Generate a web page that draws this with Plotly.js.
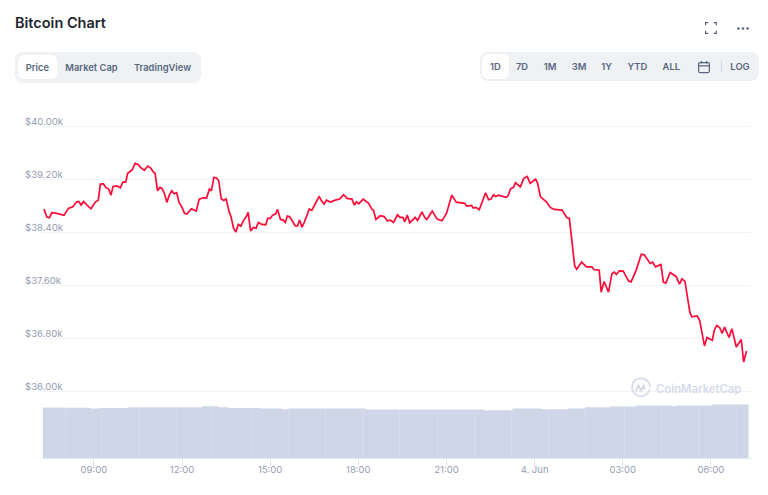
<!DOCTYPE html>
<html>
<head>
<meta charset="utf-8">
<script src="https://cdn.plot.ly/plotly-3.0.1.min.js"></script>
<style>
html,body{margin:0;padding:0;background:#fff;width:768px;height:495px;overflow:hidden;font-family:Inter,sans-serif}
#chart{position:absolute;left:0;top:0;width:768px;height:495px}
.g{position:absolute;background:#eff2f5;border-radius:8px}
.a{position:absolute;background:#fff;border-radius:6px}
.t{position:absolute;transform:translate(-50%,-50%);font-size:9.4px;font-weight:600;color:#58667e;white-space:nowrap;line-height:1}
svg.i{position:absolute;overflow:visible}
</style>
</head>
<body>
<div id="chart"></div>
<div class="g" style="left:15px;top:52px;width:186px;height:31px"></div>
<div class="a" style="left:18px;top:55px;width:39px;height:24px"></div>
<div class="t" style="left:37.3px;top:67.8px">Price</div>
<div class="t" style="left:91.5px;top:67.8px">Market Cap</div>
<div class="t" style="left:162.5px;top:67.8px">TradingView</div>
<div class="g" style="left:480px;top:52px;width:279px;height:29px"></div>
<div class="a" style="left:482px;top:54px;width:27px;height:25px"></div>
<div class="t" style="left:495.3px;top:66.8px">1D</div>
<div class="t" style="left:522px;top:66.8px">7D</div>
<div class="t" style="left:550px;top:66.8px">1M</div>
<div class="t" style="left:579px;top:66.8px">3M</div>
<div class="t" style="left:606.7px;top:66.8px">1Y</div>
<div class="t" style="left:637.3px;top:66.8px">YTD</div>
<div class="t" style="left:671.3px;top:66.8px">ALL</div>
<div class="t" style="left:740px;top:66.8px">LOG</div>
<svg class="i" style="left:698px;top:61px" width="12" height="12" viewBox="0 0 12 12" fill="none" stroke="#58667e" stroke-width="1.2"><rect x="0.6" y="1.6" width="10.8" height="10" rx="1.5"/><path d="M0.6 4.8H11.4M3.4 0V2.6M8.6 0V2.6"/></svg>
<div style="position:absolute;left:720.5px;top:61px;width:1px;height:11px;background:#cfd6e4"></div>
<svg class="i" style="left:705px;top:22px" width="12" height="12" viewBox="0 0 12 12" fill="none" stroke="#58667e" stroke-width="1.2"><path d="M0.6 3.2V0.6H3.2M8.8 0.6H11.4V3.2M11.4 8.8V11.4H8.8M3.2 11.4H0.6V8.8"/></svg>
<svg class="i" style="left:737px;top:26.5px" width="12" height="3" viewBox="0 0 12 3" fill="#58667e"><circle cx="1.4" cy="1.5" r="1.3"/><circle cx="6" cy="1.5" r="1.3"/><circle cx="10.6" cy="1.5" r="1.3"/></svg>
<svg class="i" style="left:631px;top:378px" width="20" height="20" viewBox="0 0 20 20" fill="none" stroke="#d5dbea" stroke-width="1.7"><path d="M18.6 11.6A8.9 8.9 0 1 1 18.9 9"/><path d="M4.6 13.4L7.4 7.6L10 12.6L12.6 7.6L13.6 11.8" stroke-width="2"/></svg>
<script>
// Price series: minutes since 3 June 00:00, and USD price
var priceMinutes = [438,444,449,454,464,471,479,488,497,505,509,514,519,527,534,543,549,553,559,565,570,575,579,587,594,599,605,609,618,624,631,635,643,650,656,662,665,670,675,679,684,689,694,699,704,709,714,720,725,730,739,749,755,764,770,776,780,785,790,795,800,805,810,816,820,825,830,835,840,846,851,855,860,866,871,876,883,891,895,900,905,911,915,921,926,931,935,940,945,951,956,960,965,970,980,985,992,1000,1005,1010,1015,1023,1033,1042,1050,1057,1067,1072,1076,1081,1090,1101,1108,1111,1116,1125,1133,1139,1145,1152,1160,1165,1171,1175,1180,1185,1196,1201,1210,1216,1220,1231,1241,1251,1260,1271,1280,1290,1297,1301,1311,1315,1320,1327,1340,1346,1351,1356,1361,1366,1375,1382,1386,1391,1397,1401,1411,1418,1425,1431,1442,1446,1452,1464,1472,1480,1496,1506,1511,1519,1522,1526,1536,1546,1557,1561,1572,1576,1582,1591,1598,1603,1607,1613,1621,1632,1637,1647,1658,1664,1676,1681,1687,1698,1703,1708,1717,1729,1736,1741,1747,1757,1761,1772,1777,1787,1792,1803,1807,1812,1818,1823,1828,1837,1843,1852,1862,1867,1873];
var priceValues = [38755,38634,38623,38699,38690,38679,38660,38765,38789,38865,38871,38815,38871,38805,38759,38860,38890,39128,39137,39076,39061,38966,39097,39106,39076,39162,39162,39294,39344,39445,39423,39384,39339,39404,39374,39309,39294,39031,39082,39067,38992,38856,38966,39031,38986,39001,38856,38780,38690,38679,38759,38725,38906,38925,38921,39057,39031,39233,39227,39182,38910,38886,38910,38720,38639,38472,38408,38524,38498,38589,38639,38705,38423,38479,38463,38554,38524,38518,38614,38614,38664,38679,38750,38599,38593,38554,38649,38639,38578,38503,38498,38589,38483,38563,38755,38735,38835,38946,38875,38830,38890,38860,38890,38906,38971,38916,38906,38815,38865,38835,38906,38841,38750,38740,38599,38654,38641,38578,38589,38554,38669,38630,38630,38563,38664,38548,38630,38584,38714,38624,38599,38725,38604,38578,38690,38966,38860,38845,38841,38800,38810,38770,38780,38744,39001,38895,38906,38971,38946,38966,38946,38931,38955,39061,39082,39152,39091,39218,39248,39143,39208,39152,38940,38865,38780,38750,38740,38624,38619,38136,37894,37849,37955,37884,37884,37844,37834,37502,37663,37502,37784,37804,37769,37823,37819,37668,37657,37823,38075,38065,37935,37955,37884,37920,37653,37638,37799,37739,37623,37703,37668,37204,37129,37144,37079,36691,36818,36777,36928,37000,36969,36879,36974,36818,36948,36676,36788,36450,36616];
// Volume steps, USD billions
var volumeMinutes = [436,482,485,532,553,610,761,794,814,880,923,937,1094,1337,1395,1454,1507,1544,1593,1648,1722,1730,1803,1877];
var volumeValues = [50.4,49.4,50.2,49.4,50.0,50.7,51.7,50.7,50.0,49.4,48.7,49.4,48.5,47.7,49.4,48.7,49.4,50.7,51.4,52.4,51.7,52.4,53.4,53.4];
var volumeDividers = [482,556,632,708,782,863,938,1013,1089,1164,1242,1318,1393,1469,1544,1624,1700,1775,1852];
// Axis labels
var xTickMinutes = [540,720,900,1080,1260,1440,1620,1800];
var xTickLabels = ['09:00','12:00','15:00','18:00','21:00','4. Jun','03:00','06:00'];
var priceTicks = [36000,36800,37600,38400,39200,40000];
var priceTickLabels = ['$36.00k','$36.80k','$37.60k','$38.40k','$39.20k','$40.00k'];

function toDate(m){ return Date.UTC(2021,5,3,0,m); }
function volumeAt(m){ var v=volumeValues[0]; for(var i=0;i<volumeMinutes.length;i++){ if(volumeMinutes[i]<=m) v=volumeValues[i]; } return v; }

var labelColor = '#959db3';
var FONT = 'Inter, sans-serif';
var traces = [
 {type:'scatter',mode:'lines',x:volumeMinutes.map(toDate),y:volumeValues,yaxis:'y2',
  line:{shape:'hv',width:0,color:'#cfd6e8'},fill:'tozeroy',fillcolor:'#cfd6e8',hoverinfo:'skip',showlegend:false},
 {type:'scatter',mode:'lines',x:priceMinutes.map(toDate),y:priceValues,yaxis:'y',
  line:{color:'#ff0a37',width:1.7,shape:'linear'},showlegend:false}
];
var annotations = priceTicks.map(function(v,i){
  return {xref:'paper',yref:'y',x:-19.5/709,y:v,yshift:5,xanchor:'left',yanchor:'middle',showarrow:false,
    text:priceTickLabels[i],font:{family:FONT,size:9.6,color:labelColor}};
});
annotations.push({xref:'paper',yref:'paper',x:(654-42)/709,y:(457.7-389)/347.7,xanchor:'left',yanchor:'middle',showarrow:false,
  text:'CoinMarketCap',font:{family:FONT,size:11.3,color:'#d5dbea',weight:600}});
var dividerShapes = volumeDividers.map(function(m){
  return {type:'line',xref:'x',yref:'y2',x0:toDate(m),x1:toDate(m),y0:0,y1:volumeAt(m),line:{color:'#d8ddec',width:1}};
});
var layout = {
  width:768,height:495,
  margin:{l:42,r:17,t:110,b:37.3,pad:0},
  paper_bgcolor:'rgba(0,0,0,0)',plot_bgcolor:'rgba(0,0,0,0)',
  title:{text:'Bitcoin Chart',x:15/768,xanchor:'left',xref:'container',y:1-23/495,yanchor:'middle',yref:'container',font:{family:FONT,size:14.5,color:'#222531',weight:600}},
  showlegend:false,
  shapes:dividerShapes,
  xaxis:{type:'date',range:[toDate(434.4),toDate(1882.9)],tickmode:'array',tickvals:xTickMinutes.map(toDate),ticktext:xTickLabels,
    ticks:'outside',ticklen:7,tickwidth:1,tickcolor:'#dfe3ef',ticklabelstandoff:-4,showgrid:false,showline:true,linecolor:'#e3e6f0',linewidth:1,zeroline:false,
    tickfont:{family:FONT,size:9.5,color:labelColor},fixedrange:true},
  yaxis:{range:[35001,40249],domain:[0,1],tickmode:'array',tickvals:priceTicks,showticklabels:false,ticks:'',showgrid:true,gridcolor:'#f2f4f7',gridwidth:1,zeroline:false,showline:false,fixedrange:true},
  yaxis2:{range:[0,347.7],domain:[0,1],overlaying:'y',showticklabels:false,ticks:'',showgrid:false,zeroline:false,showline:false,fixedrange:true},
  annotations:annotations
};
Plotly.newPlot('chart',traces,layout,{staticPlot:true,displayModeBar:false});
</script>
</body>
</html>
